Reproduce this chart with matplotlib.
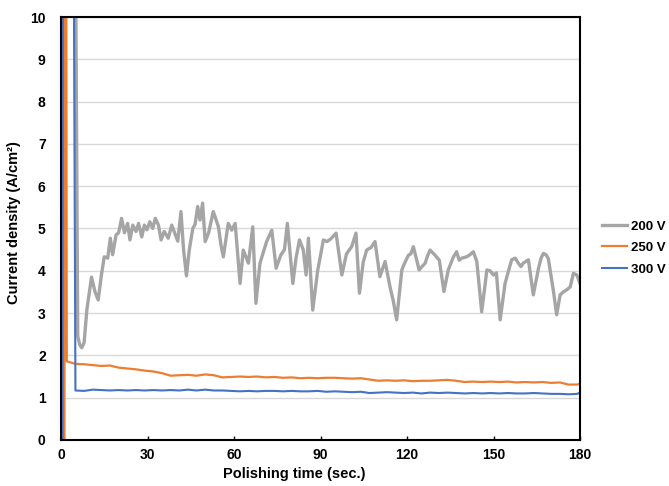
import numpy as np
import matplotlib
matplotlib.use("Agg")
import matplotlib.pyplot as plt

plt.rcParams['font.family'] = ['Liberation Sans', 'DejaVu Sans']
plt.rcParams['font.weight'] = 'bold'

# 200 V (gray)
t200 = [0.2, 0.3, 5.0, 5.8, 6.5, 7.2, 8.0, 9.0, 10.6, 11.8, 12.9, 14, 15, 16.2, 17.1, 17.9,
        19.1, 20, 21, 22, 23.1, 23.9, 24.9, 26, 26.9, 28, 28.9, 29.8, 30.8, 31.8, 32.7,
        33.8, 34.7, 35.8, 37.2, 38.4, 39.5, 40.5, 41.6, 42.5, 43.5, 44.5, 45.7, 46.5,
        47.4, 48.2, 49.1, 50, 51.2, 52.8, 54.6, 55.5, 56.3, 58, 59.2, 60.4, 62.1, 63.2,
        65, 66.5, 67.6, 69, 70, 71.3, 73.1, 74.6, 76.2, 77.5, 78.5, 80.4, 81.5, 82.7, 84,
        85, 85.8, 87.3, 89, 91, 92.2, 93.5, 95.4, 97.4, 99, 100.8,
        102.3, 103.5, 104.8, 106, 107.5, 108.9, 110.6, 112.4, 114.1, 115.2,
        116.4, 118.2, 119.3, 120.5, 121.3, 122.2, 124.2, 125.2, 126.3, 127.1,
        128, 129.7, 131.2, 132.8, 134.3, 136.1, 137.2, 138.1, 139, 140.7,
        141.8, 143, 144.2, 145.9, 147.7, 148.8, 150, 151, 152.3, 154,
        155.2, 156.3, 157.5, 158.6, 159.5, 160.3, 161.2, 162.1, 163.8, 165.6,
        166.5, 167.3, 168.2, 169, 170.8, 171.9, 173.1, 174.2, 175.4, 176.6,
        177.7, 178.9, 180]
v200 = [0, 12, 12, 2.45, 2.25, 2.18, 2.3, 3.1, 3.85, 3.5, 3.31, 3.9, 4.33, 4.3, 4.77, 4.38,
        4.85, 4.9, 5.24, 4.9, 5.12, 4.73, 5.08, 4.93, 5.12, 4.8, 5.08, 4.97, 5.16, 5.0, 5.24,
        5.08, 4.73, 4.93, 4.77, 5.08, 4.88, 4.7, 5.4, 4.5, 3.88, 4.5, 5.0, 5.1,
        5.52, 5.2, 5.6, 4.69, 4.9, 5.4, 5.04, 4.6, 4.33, 5.12, 4.96, 5.12, 3.7, 4.49,
        4.18, 5.04, 3.23, 4.18, 4.4, 4.69, 4.96, 4.06, 4.37, 4.5, 5.12, 3.7, 4.3, 4.73, 4.5,
        3.9, 4.77, 3.07, 4.0, 4.73, 4.69, 4.75, 4.89, 3.9, 4.4, 4.57,
        4.89, 3.47, 4.2, 4.49, 4.55, 4.69, 3.86, 4.22, 3.62, 3.3,
        2.84, 4.02, 4.2, 4.37, 4.4, 4.57, 4.02, 4.1, 4.18, 4.35,
        4.49, 4.37, 4.25, 3.51, 4.02, 4.33, 4.45, 4.25, 4.3, 4.33,
        4.38, 4.45, 4.22, 3.03, 4.02, 4.0, 3.9, 3.95, 2.84, 3.7,
        4.0, 4.26, 4.3, 4.18, 4.1, 4.18, 4.22, 4.26, 3.43, 4.06,
        4.3, 4.41, 4.38, 4.29, 3.51, 2.96, 3.43, 3.5, 3.55, 3.62,
        3.94, 3.9, 3.7]

# 250 V (orange)
t250 = [1.2, 1.3, 1.8] + list(range(2, 180, 3)) + [180]
v250 = [0, 12, 12,
        1.86, 1.80, 1.79, 1.77, 1.75, 1.76, 1.71, 1.69, 1.67, 1.64, 1.62, 1.58, 1.52, 1.53,
        1.54, 1.52, 1.55, 1.53, 1.48, 1.49, 1.50, 1.49, 1.50, 1.48, 1.49, 1.47, 1.48, 1.46,
        1.47, 1.46, 1.47, 1.47, 1.46, 1.45, 1.46, 1.43, 1.40, 1.41, 1.40, 1.41, 1.39, 1.40,
        1.40, 1.41, 1.42, 1.40, 1.37, 1.38, 1.37, 1.38, 1.37, 1.38, 1.36, 1.37, 1.36, 1.37,
        1.35, 1.36, 1.31, 1.31, 1.33]

# 300 V (blue)
t300 = [0.6, 0.7, 4.4] + list(range(5, 180, 3)) + [180]
v300 = [0, 12, 12,
        1.17, 1.16, 1.19, 1.18, 1.17, 1.18, 1.17, 1.18, 1.17, 1.18, 1.17, 1.18, 1.17, 1.19,
        1.17, 1.19, 1.17, 1.17, 1.16, 1.15, 1.16, 1.15, 1.16, 1.16, 1.15, 1.16, 1.15, 1.15,
        1.16, 1.14, 1.15, 1.14, 1.13, 1.14, 1.11, 1.12, 1.13, 1.12, 1.11, 1.12, 1.10, 1.12,
        1.11, 1.12, 1.11, 1.10, 1.11, 1.10, 1.11, 1.10, 1.11, 1.10, 1.10, 1.11, 1.10, 1.09,
        1.09, 1.08, 1.09, 1.12]

fig = plt.figure(figsize=(6.69, 4.86), dpi=100)
ax = fig.add_axes([0.0912, 0.0947, 0.7758, 0.8703])

ax.plot(t200, v200, color='#a5a5a5', lw=2.4, label='200 V', solid_joinstyle='round')
ax.plot(t250, v250, color='#ed7d31', lw=1.6, label='250 V')
ax.plot(t300, v300, color='#4472c4', lw=1.5, label='300 V')

ax.set_xlim(0, 180)
ax.set_ylim(0, 10)
ax.set_xticks(np.arange(0, 181, 30))
ax.set_yticks(np.arange(0, 11, 1))
ax.yaxis.grid(True, color='#d9d9d9', lw=1)
ax.set_axisbelow(True)
for s in ax.spines.values():
    s.set_color('black')
    s.set_linewidth(1.5)
ax.tick_params(axis='x', direction='in', length=3, width=1, pad=6, labelsize=10)
ax.tick_params(axis='y', length=0, pad=11, labelsize=10)
for lab in ax.get_xticklabels() + ax.get_yticklabels():
    lab.set_fontweight('bold')

ax.set_xlabel('Polishing time (sec.)', fontsize=10.5, fontweight='bold', labelpad=6)
ax.xaxis.set_label_coords(0.45, -0.065)
ax.set_ylabel('Current density (A/cm²)', fontsize=10.5, fontweight='bold')
ax.yaxis.set_label_coords(-0.078, 0.515)

leg = ax.legend(loc='center left', bbox_to_anchor=(1.02, 0.454), frameon=False,
                handlelength=1.85, handletextpad=0.3, labelspacing=0.7,
                prop={'size': 9.5, 'weight': 'bold'})

fig.savefig('out.png', dpi=100)
